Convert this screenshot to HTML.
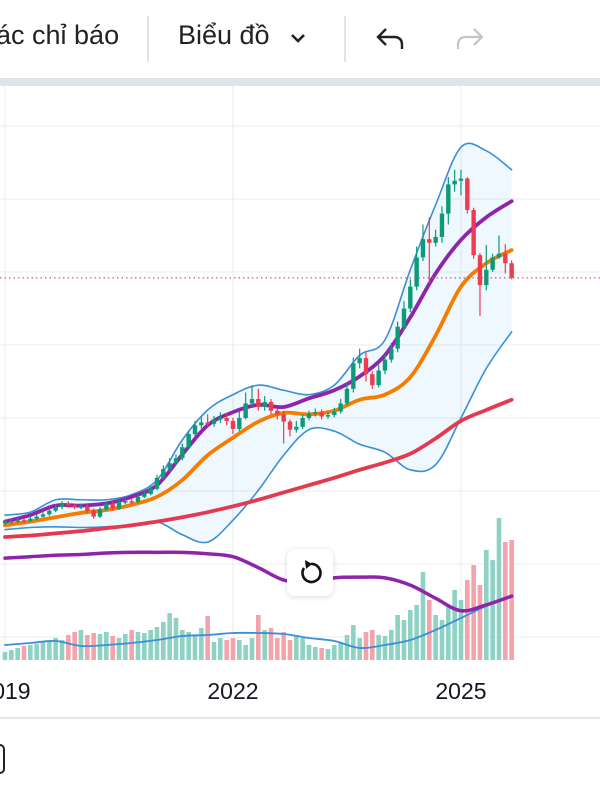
<!DOCTYPE html>
<html><head><meta charset="utf-8">
<style>
html,body{margin:0;padding:0;width:600px;height:800px;overflow:hidden;background:#fff;font-family:"Liberation Sans","Noto Sans CJK SC",sans-serif;}
#top{position:absolute;left:0;top:0;width:600px;height:78px;background:#fff;}
.t{position:absolute;top:20px;font-size:27px;color:#222;white-space:nowrap;}
.div{position:absolute;top:16px;width:2px;height:46px;background:#e3e3e3;}
#band{position:absolute;left:0;top:78px;width:600px;height:8px;background:#dfe3ec;}
#chart{position:absolute;left:0;top:0;}
#btn{position:absolute;left:287px;top:549px;width:46px;height:47px;background:#fff;border-radius:8px;box-shadow:0 1px 6px rgba(0,0,0,0.15);}
</style></head><body>
<div id="top">
  <div class="t" style="left:-4px">ác chỉ báo</div>
  <div class="div" style="left:147px"></div>
  <div class="t" style="left:178px">Biểu đồ</div>
  <svg style="position:absolute;left:289px;top:32px" width="18" height="14"><path d="M3 3 L9 9 L15 3" stroke="#222" stroke-width="2.6" fill="none"/></svg>
  <div class="div" style="left:344px"></div>
  <svg style="position:absolute;left:374px;top:24px" width="34" height="30"><path d="M12 5 L4 13 L12 21 M4 13 H20 Q28 13 28 21 V25" stroke="#222" stroke-width="2.4" fill="none"/></svg>
  <svg style="position:absolute;left:452px;top:24px" width="34" height="30"><path d="M22 5 L30 13 L22 21 M30 13 H14 Q6 13 6 21 V25" stroke="#c4c4c4" stroke-width="2.2" fill="none"/></svg>
</div>
<div id="band"></div>
<svg id="chart" width="600" height="800" style="top:0"></svg>
<div id="btn">
<svg width="46" height="47"><path d="M17 19 A9 9 0 1 0 24 15" stroke="#111" stroke-width="2.6" fill="none"/><path d="M18 11 L25 15 L19 20 Z" fill="#111"/></svg>
</div>
<script>
const years=["2019","2022","2025"];
const yearIdx=[0,36,72];
const open=[15.6,15.8,15.9,16.0,15.9,16.2,16.5,16.8,17.3,17.8,18.2,18.0,17.8,17.9,17.3,16.5,17.5,18.2,17.6,18.5,18.6,18.5,19.2,19.6,20.3,21.8,23.0,23.8,24.5,26.0,27.8,29.0,29.4,29.2,29.8,30.0,29.6,28.5,30.0,32.0,32.6,31.5,32.2,31.0,30.5,29.5,28.4,28.8,30.0,30.6,30.8,30.2,30.4,30.9,32.0,34.0,37.5,38.2,36.0,34.5,36.5,38.0,39.5,42.5,45.0,48.0,52.0,54.5,54.0,54.8,58.0,62.0,62.5,62.8,58.5,52.3,48.2,50.3,52.0,52.5,51.2];
const close=[15.8,15.9,16.0,15.9,16.2,16.5,16.8,17.3,17.8,18.2,18.0,17.8,17.9,17.3,16.5,17.5,18.2,17.6,18.5,18.6,18.5,19.2,19.6,20.3,21.8,23.0,23.8,24.5,26.0,27.8,29.0,29.4,29.2,29.8,30.0,29.6,28.5,30.0,32.0,32.6,31.5,32.2,31.0,30.5,29.5,28.4,28.8,30.0,30.6,30.8,30.2,30.4,30.9,32.0,34.0,37.5,38.2,36.0,34.5,36.5,38.0,39.5,42.5,45.0,48.0,52.0,54.5,54.0,54.8,58.0,62.0,62.5,62.8,58.5,52.3,48.2,50.3,52.0,52.5,51.2,49.2];
const high=[16.1,16.2,16.3,16.3,16.5,16.8,17.1,17.7,18.2,18.6,18.6,18.3,18.3,18.2,17.6,17.8,18.5,18.5,18.8,19.0,19.0,19.5,20.0,20.7,22.2,23.5,24.5,25.0,26.5,28.3,29.6,30.2,30.5,30.3,30.8,30.6,30.0,31.0,33.5,34.5,34.0,33.0,32.6,31.4,31.0,29.8,29.6,30.5,31.0,31.3,31.2,30.9,31.4,32.6,34.8,38.3,39.5,39.0,36.4,37.3,38.7,40.3,43.2,46.0,49.0,53.5,56.5,57.5,55.8,59.0,63.0,64.0,64.0,63.0,58.8,52.6,53.7,52.5,55.0,53.8,51.6];
const low=[15.3,15.5,15.6,15.6,15.7,16.0,16.3,16.6,17.1,17.5,17.7,17.5,17.5,17.0,16.2,16.3,17.3,17.3,17.4,18.2,18.1,18.3,19.0,19.4,20.1,21.5,22.6,23.5,24.2,25.8,27.5,28.6,28.8,28.8,29.3,29.0,27.8,28.2,29.8,31.5,31.0,31.0,30.5,29.8,26.5,27.5,28.0,28.5,29.7,30.2,29.8,29.9,30.1,30.6,31.7,33.5,36.8,35.0,34.0,34.2,36.0,37.6,39.0,42.0,44.5,47.5,51.5,48.5,53.5,54.0,56.5,61.0,60.5,58.0,51.8,44.0,47.5,50.0,51.8,49.8,49.0];
const volume=[8,10,12,14,15,16,18,18,22,20,25,28,30,25,27,26,28,24,22,26,30,28,27,30,33,38,47,42,30,28,25,32,44,18,22,20,22,20,15,22,45,30,32,22,28,20,25,22,15,13,12,11,15,18,25,35,22,28,30,25,24,30,45,40,50,55,88,60,45,40,55,70,60,80,95,75,110,100,142,118,120];
// indicator lines sampled every 4 months
const maFast=[15.8,16.7,18.0,18.0,18.3,19.2,20.8,25.0,29.0,30.8,31.8,31.5,32.7,33.8,35.7,38.6,43.8,49.8,54.4,57.5,59.7];
const maMid=[15.3,15.8,16.4,17.0,17.4,18.1,19.2,21.5,24.9,27.3,29.5,30.7,30.5,31.0,32.5,33.2,35.6,41.3,48.0,51.2,53.0];
const maSlow=[13.7,13.9,14.2,14.5,14.9,15.3,15.8,16.4,17.1,17.9,18.8,19.8,20.8,21.8,22.9,23.9,25.1,27.2,29.6,31.1,32.5];
const bbUpper=[16.7,17.1,18.8,18.8,18.8,19.5,21.5,27.0,31.1,33.2,34.5,33.8,33.2,34.5,38.6,40.7,50.3,59.2,67.1,66.6,64.0];
const bbLower=[14.7,15.0,15.1,15.0,15.1,15.3,15.8,14.0,13.0,16.0,20.1,24.9,28.4,28.2,26.4,25.3,22.9,23.6,30.0,36.8,41.8];
const oscLine=[10.8,11.0,11.2,11.3,11.5,11.6,11.6,11.6,11.4,11.0,9.5,7.8,7.5,8.1,8.2,8.1,7.1,5.3,3.6,4.4,5.6];
const volMA=[15,17,19,14,15,17,20,24,25,27,27,26,22,19,12,15,20,30,42,54,63];
const lastPrice=49.2;
const priceGrid=[0,10,20,30,40,50,60,70];

const NS="http://www.w3.org/2000/svg";
const svg=document.getElementById('chart');
const xS=i=>5+i*6.333;
const yS=p=>637-p*7.3;
const vS=v=>660-v;
const step=4;
function mk(tag,attrs,parent){const e=document.createElementNS(NS,tag);for(const k in attrs)e.setAttribute(k,attrs[k]);(parent||svg).appendChild(e);return e;}
function smooth(pts){let d=`M${pts[0][0]},${pts[0][1]}`;for(let i=0;i<pts.length-1;i++){const p0=pts[Math.max(0,i-1)],p1=pts[i],p2=pts[i+1],p3=pts[Math.min(pts.length-1,i+2)];const c1=[p1[0]+(p2[0]-p0[0])/6,p1[1]+(p2[1]-p0[1])/6],c2=[p2[0]-(p3[0]-p1[0])/6,p2[1]-(p3[1]-p1[1])/6];d+=` C${c1[0]},${c1[1]} ${c2[0]},${c2[1]} ${p2[0]},${p2[1]}`;}return d;}
const ptsOf=(arr,sc)=>arr.map((v,k)=>[xS(k*step),sc(v)]);

const clip=mk('clipPath',{id:'pc'});mk('rect',{x:0,y:86,width:600,height:576},clip);
priceGrid.forEach(p=>{const l=mk('line',{x1:0,x2:600,y1:yS(p),y2:yS(p),stroke:'#f0f0f0','stroke-width':1.2});

});
yearIdx.forEach((ix,k)=>{const l=mk('line',{x1:xS(ix),x2:xS(ix),y1:86,y2:662,stroke:'#eeeeee','stroke-width':1.2});


const t=mk('text',{x:xS(ix),y:699,'text-anchor':'middle','font-size':23,fill:'#131722','font-family':'Liberation Sans, sans-serif'});t.textContent=years[k];

});
const g=mk('g',{'clip-path':'url(#pc)'});
const up=ptsOf(bbUpper,yS),lo=ptsOf(bbLower,yS);
let fd=smooth(up)+' L'+smooth(lo.slice().reverse()).slice(1)+' Z';
const fill=mk('path',{d:fd,fill:'rgba(33,150,243,0.07)',stroke:'none'},g);


volume.forEach((v,i)=>{const upc=close[i]>=open[i];const r=mk('rect',{x:xS(i)-2.3,y:vS(v),width:4.6,height:v,fill:upc?'#8ed2c4':'#f4a3ab'},g);

});
function line(arr,sc,color,w,name){const p=mk('path',{d:smooth(ptsOf(arr,sc)),stroke:color,'stroke-width':w,fill:'none','stroke-linecap':'round'},g);

}
line(volMA,v=>vS(v),'#3a8fd6',1.8,'volume-ma-line');
line(oscLine,yS,'#8e24aa',3.5,'oscillator-line');
line(bbUpper,yS,'#3a8fd6',1.6,'bollinger-upper');
line(bbLower,yS,'#3a8fd6',1.6,'bollinger-lower');
line(maSlow,yS,'#e53950',3.8,'ma-slow-line');
line(maMid,yS,'#f57c00',3.8,'ma-mid-line');
line(maFast,yS,'#8e24aa',3.8,'ma-fast-line');
close.forEach((c,i)=>{const o=open[i],col=c>=o?'#0d9a7a':'#ef3b4d';const x=xS(i);
const w=mk('line',{x1:x,x2:x,y1:yS(high[i]),y2:yS(low[i]),stroke:col,'stroke-width':1.2},g);


const top=yS(Math.max(o,c)),h=Math.max(1.5,Math.abs(yS(o)-yS(c)));
const b=mk('rect',{x:x-2.2,y:top,width:4.4,height:h,fill:col},g);

});
const lp=mk('line',{x1:0,x2:600,y1:yS(lastPrice),y2:yS(lastPrice),stroke:'#e0525f','stroke-width':1.2,'stroke-dasharray':'1.5 3'});


const bl=mk('line',{x1:0,x2:600,y1:718,y2:718,stroke:'#e6e6e6','stroke-width':2});


const ic=mk('rect',{x:-8,y:745,width:12,height:28,rx:4,fill:'none',stroke:'#222','stroke-width':2});


</script>
</body></html>
